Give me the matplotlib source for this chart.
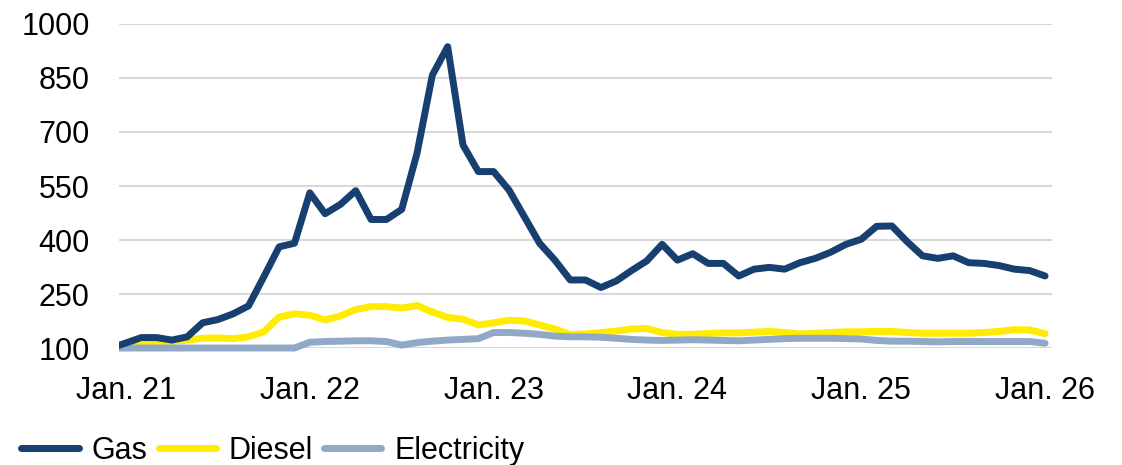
import numpy as np
import matplotlib
matplotlib.use("Agg")
import matplotlib.pyplot as plt
from matplotlib.patches import Rectangle

# monthly index values, Dec 2020 = 100 (month -1) through Jan 2026 (month 60)
months = np.arange(-1, 61)

gas = [100, 114, 129, 129, 122, 131, 170, 179, 195, 217, 298, 381, 391,
       531, 473, 499, 537, 457, 457, 485, 641, 858, 937, 664, 590,
       590, 539, 465, 391, 344, 289, 289, 268, 286, 315, 342, 388,
       344, 362, 335, 335, 300, 319, 324, 319, 337, 349, 366, 388,
       402, 438, 439, 395, 356, 349, 356, 337, 335, 329, 319, 315, 300]

diesel = [100, 104, 108, 113, 118, 122, 127, 128, 126, 131, 145, 186, 195,
          191, 178, 189, 207, 215, 215, 211, 218, 200, 185, 180, 164,
          170, 177, 175, 164, 153, 137, 139, 143, 147, 153, 154, 143,
          138, 138, 140, 142, 142, 144, 146, 143, 139, 141, 143, 145,
          145, 146, 146, 143, 141, 141, 141, 141, 143, 146, 151, 150, 140]

electricity = [100, 100, 100, 100, 100, 100, 100, 100, 100, 100, 100, 100, 100,
               116, 118, 119, 120, 120, 118, 108, 115, 119, 122, 124, 126,
               143, 143, 141, 138, 133, 131, 131, 130, 127, 124, 122, 121,
               122, 123, 122, 121, 120, 122, 124, 126, 127, 127, 127, 126,
               125, 121, 119, 119, 118, 117, 118, 118, 118, 118, 118, 118, 113]

tick_months = [0, 12, 24, 36, 48, 60]
tick_labels = ["Jan. 21", "Jan. 22", "Jan. 23", "Jan. 24", "Jan. 25", "Jan. 26"]
y_ticks = [100, 250, 400, 550, 700, 850, 1000]

plt.rcParams["font.family"] = ["Liberation Sans", "DejaVu Sans"]

fig = plt.figure(figsize=(11.22, 4.65), dpi=100)
ax = fig.add_axes([0.106, 0.2516, 0.8316, 0.6968])

# clip only left/right so the lines sitting on 100 are not cut in half
clip = Rectangle((0, -0.1), 1, 1.2, transform=ax.transAxes, visible=False)

series = [("Gas", gas, "#173F6F", 3),
          ("Diesel", diesel, "#FFEC00", 1),
          ("Electricity", electricity, "#92A8C7", 2)]
for name, vals, col, z in series:
    ln, = ax.plot(months, vals, color=col, lw=5, label=name, zorder=z,
                  solid_capstyle="round", solid_joinstyle="round")
    ln.set_clip_path(clip)

ax.set_xlim(-0.46, 60.45)
ax.set_ylim(100, 1000)
ax.set_yticks(y_ticks)
ax.set_xticks(tick_months)
ax.set_xticklabels(tick_labels)
ax.grid(axis="y", color="#D9D9D9", lw=1.5, zorder=0)
ax.set_axisbelow(True)
for s in ax.spines.values():
    s.set_visible(False)
ax.tick_params(axis="y", length=0, pad=21, labelsize=22)
ax.tick_params(axis="x", length=0, pad=20, labelsize=22)

fig.legend(loc="lower left", bbox_to_anchor=(0.0, -0.048), ncol=3, frameon=False,
           fontsize=22, handlelength=1.87, handletextpad=0.43, columnspacing=0.36,
           borderpad=0.2)

fig.savefig("out.png", dpi=100)
